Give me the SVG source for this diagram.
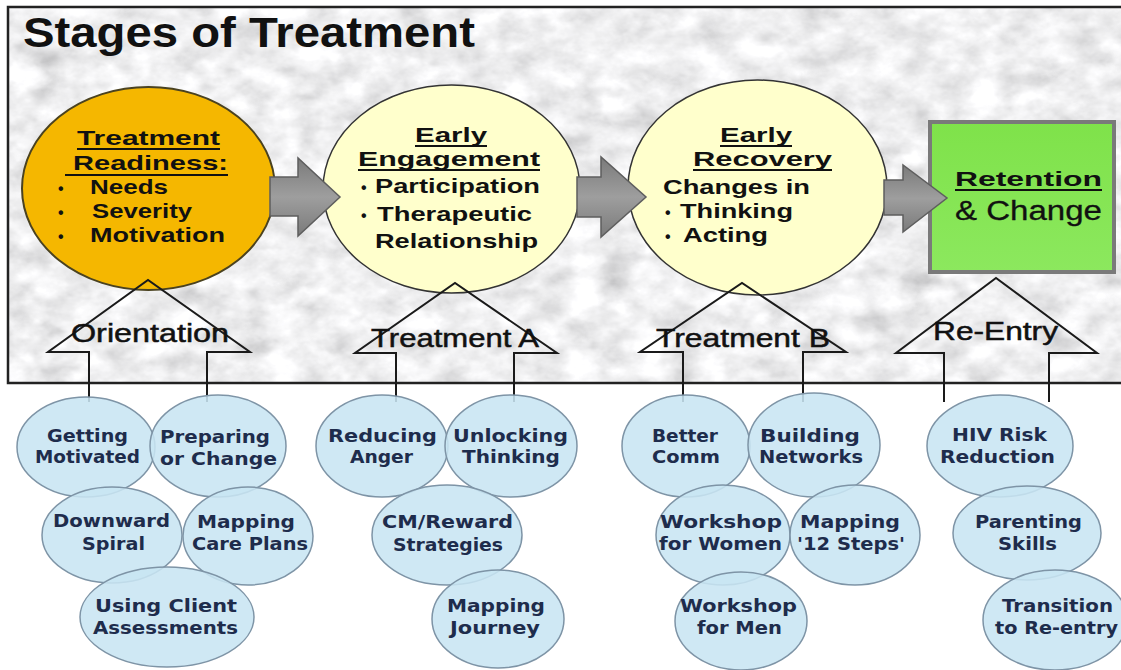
<svg xmlns="http://www.w3.org/2000/svg" width="1121" height="670" viewBox="0 0 1121 670">
<style>
.stage{font-family:"Liberation Sans",Arial,sans-serif;font-weight:bold;font-size:21px;fill:#111}
.stagen{font-family:"Liberation Sans",Arial,sans-serif;font-size:27px;fill:#111;stroke:#111;stroke-width:0.3}
.lbl{font-family:"Liberation Sans",Arial,sans-serif;font-size:26px;fill:#111;stroke:#111;stroke-width:0.5}
.bul{font-family:"Liberation Sans",Arial,sans-serif;font-weight:bold;font-size:16px;fill:#111}
.ul{stroke:#111;stroke-width:2}
.bub{fill:#C8E5F3;fill-opacity:0.88;stroke:#7E94A6;stroke-width:1.5}
.bt{font-family:"DejaVu Sans",Verdana,sans-serif;font-weight:bold;font-size:17px;fill:#1E2C4C;text-anchor:middle}
.blk{fill:url(#ga);stroke:#5E5E5E;stroke-width:1.5}
.up{fill:none;stroke:#1A1A1A;stroke-width:2}
.yel{fill:#FFFFCC;stroke:#333;stroke-width:1.5}
</style>
<defs>
<filter id="marble" x="0" y="0" width="100%" height="100%">
<feTurbulence type="fractalNoise" baseFrequency="0.03 0.045" numOctaves="4" seed="7" result="n"/>
<feColorMatrix in="n" type="matrix" values="0.33 0.33 0.33 0 0 0.33 0.33 0.33 0 0 0.33 0.33 0.33 0 0 0 0 0 0 1" result="g"/>
<feComponentTransfer in="g">
<feFuncR type="linear" slope="1.1" intercept="0.32"/>
<feFuncG type="linear" slope="1.1" intercept="0.32"/>
<feFuncB type="linear" slope="1.1" intercept="0.33"/>
<feFuncA type="linear" slope="0" intercept="1"/>
</feComponentTransfer>
</filter>
<linearGradient id="ga" x1="0" y1="0" x2="0" y2="1">
<stop offset="0" stop-color="#7A7A7A"/>
<stop offset="0.5" stop-color="#9E9E9E"/>
<stop offset="1" stop-color="#7A7A7A"/>
</linearGradient>
<linearGradient id="gg" x1="0" y1="0" x2="0" y2="1">
<stop offset="0" stop-color="#7FE24A"/>
<stop offset="1" stop-color="#8CE85E"/>
</linearGradient>
</defs>
<rect width="1121" height="670" fill="#FFFFFF"/>
<g id="frame">
<rect x="8" y="7" width="1125" height="376" fill="#D8D8D8"/>
<rect x="8" y="7" width="1125" height="376" filter="url(#marble)"/>
<rect x="8" y="7" width="1125" height="376" fill="none" stroke="#222" stroke-width="2.5"/>
<text x="23" y="47" font-family="'Liberation Sans',Arial,sans-serif" font-weight="bold" font-size="42" fill="#111" textLength="452" lengthAdjust="spacingAndGlyphs">Stages of Treatment</text>
</g>
<g id="readiness">
<ellipse cx="148.5" cy="188.5" rx="126.5" ry="101.5" fill="#F5B700" stroke="#4A4220" stroke-width="2"/>
<text class="stage" x="148.5" y="145" text-anchor="middle" textLength="143" lengthAdjust="spacingAndGlyphs">Treatment</text>
<line class="ul" x1="77" y1="149" x2="220" y2="149"/>
<text class="stage" x="150.5" y="170" text-anchor="middle" textLength="155" lengthAdjust="spacingAndGlyphs">Readiness:</text>
<line class="ul" x1="65" y1="175" x2="228" y2="175"/>
<text class="bul" x="58" y="194">•</text>
<text class="stage" x="90" y="194" textLength="78" lengthAdjust="spacingAndGlyphs">Needs</text>
<text class="bul" x="58" y="218">•</text>
<text class="stage" x="92" y="218" textLength="100" lengthAdjust="spacingAndGlyphs">Severity</text>
<text class="bul" x="58" y="242">•</text>
<text class="stage" x="90" y="242" textLength="135" lengthAdjust="spacingAndGlyphs">Motivation</text>
</g>
<g id="engagement">
<ellipse class="yel" cx="451.5" cy="189" rx="128.5" ry="104"/>
<text class="stage" x="451" y="142" text-anchor="middle" textLength="72" lengthAdjust="spacingAndGlyphs">Early</text>
<line class="ul" x1="415" y1="146" x2="487" y2="146"/>
<text class="stage" x="449" y="166" text-anchor="middle" textLength="182" lengthAdjust="spacingAndGlyphs">Engagement</text>
<line class="ul" x1="358" y1="170" x2="540" y2="170"/>
<text class="bul" x="361" y="193">•</text>
<text class="stage" x="375" y="193" textLength="165" lengthAdjust="spacingAndGlyphs">Participation</text>
<text class="bul" x="361" y="221">•</text>
<text class="stage" x="377" y="221" textLength="155" lengthAdjust="spacingAndGlyphs">Therapeutic</text>
<text class="stage" x="375" y="248" textLength="163" lengthAdjust="spacingAndGlyphs">Relationship</text>
</g>
<g id="recovery">
<ellipse class="yel" cx="757.5" cy="187.5" rx="129.5" ry="107.5"/>
<text class="stage" x="756" y="142" text-anchor="middle" textLength="72" lengthAdjust="spacingAndGlyphs">Early</text>
<line class="ul" x1="720" y1="146" x2="792" y2="146"/>
<text class="stage" x="762.5" y="166" text-anchor="middle" textLength="139" lengthAdjust="spacingAndGlyphs">Recovery</text>
<line class="ul" x1="693" y1="170" x2="832" y2="170"/>
<text class="stage" x="663" y="194" textLength="147" lengthAdjust="spacingAndGlyphs">Changes in</text>
<text class="bul" x="665" y="218">•</text>
<text class="stage" x="680" y="218" textLength="113" lengthAdjust="spacingAndGlyphs">Thinking</text>
<text class="bul" x="665" y="242">•</text>
<text class="stage" x="683" y="242" textLength="85" lengthAdjust="spacingAndGlyphs">Acting</text>
</g>
<g id="retention">
<rect x="930" y="122" width="184" height="150" fill="url(#gg)" stroke="#7A7A7A" stroke-width="4"/>
<text class="stage" x="955" y="186" font-size="27" textLength="147" lengthAdjust="spacingAndGlyphs">Retention</text>
<line class="ul" x1="955" y1="190" x2="1102" y2="190"/>
<text class="stagen" x="955" y="220" textLength="147" lengthAdjust="spacingAndGlyphs">&amp; Change</text>
</g>
<g id="connectors">
<path class="blk" d="M270,177 H298 V158 L340,197 L298,236 V216 H270 Z"/>
<path class="blk" d="M577,177 H601 V157 L646,197 L601,237 V217 H577 Z"/>
<path class="blk" d="M884,180 H903 V165 L947,198 L903,232 V215 H884 Z"/>
<g id="orientation">
<path class="up" d="M89,402 V352 H48 L148,280 L250,352 H207 V402"/>
<text class="lbl" x="71" y="342" textLength="158" lengthAdjust="spacingAndGlyphs">Orientation</text>
</g>
<g id="treatmentA">
<path class="up" d="M396,402 V353 H355 L455,283 L557,353 H514 V402"/>
<text class="lbl" x="371" y="347" textLength="168" lengthAdjust="spacingAndGlyphs">Treatment A</text>
</g>
<g id="treatmentB">
<path class="up" d="M683,402 V352 H640 L742,283 L846,352 H803 V402"/>
<text class="lbl" x="656" y="347" textLength="174" lengthAdjust="spacingAndGlyphs">Treatment B</text>
</g>
<g id="reentry">
<path class="up" d="M944,402 V353 H896 L996,278 L1097,353 H1049 V402"/>
<text class="lbl" x="933" y="340" textLength="125" lengthAdjust="spacingAndGlyphs">Re-Entry</text>
</g>
</g>
<g id="getting-motivated"><ellipse class="bub" cx="86" cy="447" rx="69" ry="50"/><text class="bt" x="87.5" y="442" textLength="81" lengthAdjust="spacingAndGlyphs">Getting</text><text class="bt" x="87.5" y="463" textLength="105" lengthAdjust="spacingAndGlyphs">Motivated</text></g>
<g id="preparing"><ellipse class="bub" cx="218" cy="446" rx="68" ry="51"/><text class="bt" x="215" y="443" textLength="110" lengthAdjust="spacingAndGlyphs">Preparing</text><text class="bt" x="218.5" y="465" textLength="117" lengthAdjust="spacingAndGlyphs">or Change</text></g>
<g id="downward-spiral"><ellipse class="bub" cx="112" cy="535" rx="70" ry="48"/><text class="bt" x="111.5" y="527" textLength="117" lengthAdjust="spacingAndGlyphs">Downward</text><text class="bt" x="113.5" y="550" textLength="63" lengthAdjust="spacingAndGlyphs">Spiral</text></g>
<g id="mapping-care"><ellipse class="bub" cx="248" cy="536" rx="65" ry="49"/><text class="bt" x="246" y="528" textLength="98" lengthAdjust="spacingAndGlyphs">Mapping</text><text class="bt" x="250" y="550" textLength="116" lengthAdjust="spacingAndGlyphs">Care Plans</text></g>
<g id="client-assessments"><ellipse class="bub" cx="167" cy="617" rx="87" ry="50"/><text class="bt" x="166" y="612" textLength="142" lengthAdjust="spacingAndGlyphs">Using Client</text><text class="bt" x="165.5" y="634" textLength="145" lengthAdjust="spacingAndGlyphs">Assessments</text></g>
<g id="reducing-anger"><ellipse class="bub" cx="382" cy="446" rx="66" ry="51"/><text class="bt" x="382.5" y="442" textLength="109" lengthAdjust="spacingAndGlyphs">Reducing</text><text class="bt" x="381.5" y="463" textLength="63" lengthAdjust="spacingAndGlyphs">Anger</text></g>
<g id="unlocking"><ellipse class="bub" cx="511" cy="446" rx="66" ry="51"/><text class="bt" x="510.5" y="442" textLength="115" lengthAdjust="spacingAndGlyphs">Unlocking</text><text class="bt" x="511" y="463" textLength="98" lengthAdjust="spacingAndGlyphs">Thinking</text></g>
<g id="cm-reward"><ellipse class="bub" cx="447" cy="535" rx="75" ry="50"/><text class="bt" x="447.5" y="528" textLength="131" lengthAdjust="spacingAndGlyphs">CM/Reward</text><text class="bt" x="448" y="551" textLength="110" lengthAdjust="spacingAndGlyphs">Strategies</text></g>
<g id="mapping-journey"><ellipse class="bub" cx="498" cy="619" rx="66" ry="49"/><text class="bt" x="496" y="612" textLength="98" lengthAdjust="spacingAndGlyphs">Mapping</text><text class="bt" x="495" y="634" textLength="90" lengthAdjust="spacingAndGlyphs">Journey</text></g>
<g id="better-comm"><ellipse class="bub" cx="686" cy="446" rx="64" ry="51"/><text class="bt" x="685" y="442" textLength="66" lengthAdjust="spacingAndGlyphs">Better</text><text class="bt" x="686" y="463" textLength="68" lengthAdjust="spacingAndGlyphs">Comm</text></g>
<g id="building-networks"><ellipse class="bub" cx="814" cy="445" rx="66" ry="52"/><text class="bt" x="810" y="442" textLength="100" lengthAdjust="spacingAndGlyphs">Building</text><text class="bt" x="811" y="463" textLength="104" lengthAdjust="spacingAndGlyphs">Networks</text></g>
<g id="workshop-women"><ellipse class="bub" cx="723" cy="535" rx="67" ry="50"/><text class="bt" x="721" y="528" textLength="122" lengthAdjust="spacingAndGlyphs">Workshop</text><text class="bt" x="720.5" y="550" textLength="123" lengthAdjust="spacingAndGlyphs">for Women</text></g>
<g id="mapping-12"><ellipse class="bub" cx="855" cy="535" rx="65" ry="50"/><text class="bt" x="850" y="528" textLength="100" lengthAdjust="spacingAndGlyphs">Mapping</text><text class="bt" x="851" y="550" textLength="108" lengthAdjust="spacingAndGlyphs">'12 Steps'</text></g>
<g id="workshop-men"><ellipse class="bub" cx="741" cy="621" rx="66" ry="49"/><text class="bt" x="738.5" y="612" textLength="117" lengthAdjust="spacingAndGlyphs">Workshop</text><text class="bt" x="739.5" y="634" textLength="85" lengthAdjust="spacingAndGlyphs">for Men</text></g>
<g id="hiv-risk"><ellipse class="bub" cx="1000" cy="446" rx="73" ry="51"/><text class="bt" x="999.5" y="441" textLength="95" lengthAdjust="spacingAndGlyphs">HIV Risk</text><text class="bt" x="997.5" y="463" textLength="115" lengthAdjust="spacingAndGlyphs">Reduction</text></g>
<g id="parenting"><ellipse class="bub" cx="1027" cy="533" rx="74" ry="47"/><text class="bt" x="1028.5" y="528" textLength="107" lengthAdjust="spacingAndGlyphs">Parenting</text><text class="bt" x="1027.5" y="550" textLength="59" lengthAdjust="spacingAndGlyphs">Skills</text></g>
<g id="transition"><ellipse class="bub" cx="1055" cy="620" rx="72" ry="50"/><text class="bt" x="1057.5" y="612" textLength="111" lengthAdjust="spacingAndGlyphs">Transition</text><text class="bt" x="1056.5" y="634" textLength="123" lengthAdjust="spacingAndGlyphs">to Re-entry</text></g>
</svg>
